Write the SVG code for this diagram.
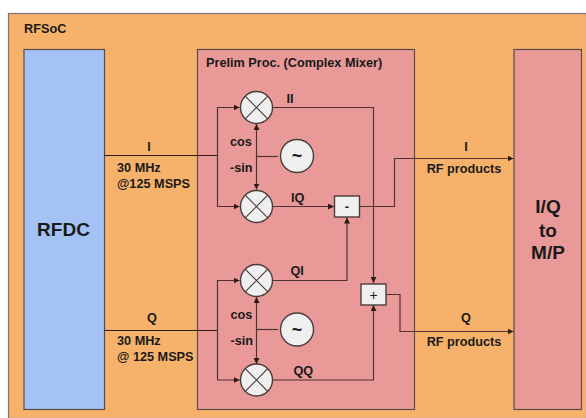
<svg xmlns="http://www.w3.org/2000/svg" width="586" height="418" viewBox="0 0 586 418">
<style>
text{font-family:"Liberation Sans",Arial,sans-serif;font-weight:700;fill:#1a1a1a;font-size:12.7px}
.m{text-anchor:middle}
.big{font-size:19px}
.box{stroke:#5b4a45;stroke-width:1.2}
.sym{fill:#efefef;stroke:#4a3c3c;stroke-width:1.4}
.x{stroke:#4a3c3c;stroke-width:1.2;fill:none}
.c{fill:none;stroke:#4f3232;stroke-width:1.2}
.k{fill:none;stroke:#2a1d14;stroke-width:1.2}
</style>
<defs><marker id="a" markerUnits="userSpaceOnUse" markerWidth="7" markerHeight="6" refX="6" refY="3" orient="auto-start-reverse"><path d="M0 0L6 3L0 6z" fill="#2a1d14"/></marker></defs>
<g id="rfsoc"><rect x="8.500" y="13.500" width="578" height="405" fill="#f6b26b" stroke="#777" stroke-width="1.200"/><text x="24" y="33">RFSoC</text></g>
<g id="rfdc"><rect class="box" x="24" y="49.500" width="80.500" height="360" fill="#a4c2f4"/><text class="m big" x="63.500" y="236">RFDC</text></g>
<g id="prelim"><rect class="box" x="197.500" y="49.500" width="217" height="360" fill="#ea9999"/><text x="206" y="67">Prelim Proc. (Complex Mixer)</text></g>
<g id="iqmp"><rect class="box" x="514" y="49.500" width="67.500" height="360" fill="#ea9999"/><text class="m big" x="548" y="213">I/Q</text><text class="m big" x="548" y="237">to</text><text class="m big" x="548" y="259">M/P</text></g>
<g id="connectors">
<path class="k" d="M104.500 155.500H217.500"/>
<path class="c" d="M217.500 155.500V107.500H239.500" marker-end="url(#a)"/>
<path class="c" d="M217.500 155.500V206.500H239.500" marker-end="url(#a)"/>
<path class="c" d="M256.500 156.500H278"/>
<path class="c" d="M256.500 124V189.500" marker-start="url(#a)" marker-end="url(#a)"/>
<path class="c" d="M272 107.500H373.500V283" marker-end="url(#a)"/>
<path class="c" d="M272 206.500H334" marker-end="url(#a)"/>
<path class="c" d="M359 206.500H394.500V158.500H513.500" marker-end="url(#a)"/>
<path class="k" d="M104.500 330.500H217.500"/>
<path class="c" d="M217.500 330.500V280.500H239.500" marker-end="url(#a)"/>
<path class="c" d="M217.500 330.500V380H239.500" marker-end="url(#a)"/>
<path class="c" d="M256.500 329.500H278"/>
<path class="c" d="M256.500 297V364" marker-start="url(#a)" marker-end="url(#a)"/>
<path class="c" d="M273 280.500H347V217.500" marker-end="url(#a)"/>
<path class="c" d="M273 380H373.500V305" marker-end="url(#a)"/>
<path class="c" d="M386 294.500H400V331.500H513.500" marker-end="url(#a)"/>
</g>
<g id="mix-ii"><circle class="sym" cx="256.500" cy="107.500" r="16"/><path class="x" d="M245.200 96.200L267.800 118.800M267.800 96.200L245.200 118.800"/></g>
<g id="mix-iq"><circle class="sym" cx="256.500" cy="206.500" r="16"/><path class="x" d="M245.200 195.200L267.800 217.800M267.800 195.200L245.200 217.800"/></g>
<g id="mix-qi"><circle class="sym" cx="256.500" cy="280.500" r="16"/><path class="x" d="M245.200 269.200L267.800 291.800M267.800 269.200L245.200 291.800"/></g>
<g id="mix-qq"><circle class="sym" cx="256.500" cy="380" r="16"/><path class="x" d="M245.200 368.700L267.800 391.300M267.800 368.700L245.200 391.300"/></g>
<g id="lo-1"><circle class="sym" cx="297" cy="156" r="16.500"/><text class="m" x="297" y="162" style="font-size:18px">~</text></g>
<g id="lo-2"><circle class="sym" cx="297" cy="329.500" r="16.500"/><text class="m" x="297" y="335.500" style="font-size:18px">~</text></g>
<g id="sub"><rect class="sym" x="334.500" y="196" width="25" height="21"/><text class="m" x="347" y="211" style="font-size:13px">-</text></g>
<g id="add"><rect class="sym" x="361" y="284" width="25" height="21"/><text class="m" x="373.500" y="299.500" style="font-size:14px;font-weight:400">+</text></g>
<g id="labels">
<text class="m" x="149" y="151">I</text>
<text x="117" y="172">30 MHz</text><text x="117" y="187.500">@125 MSPS</text>
<text class="m" x="152" y="322">Q</text>
<text x="117" y="345">30 MHz</text><text x="117" y="360.500">@ 125 MSPS</text>
<text x="230" y="145.500">cos</text><text x="230" y="171.500">-sin</text>
<text x="230.500" y="319">cos</text><text x="230.500" y="345">-sin</text>
<text x="286.500" y="103">II</text><text x="291" y="202">IQ</text><text x="290.500" y="275">QI</text><text x="293.500" y="375">QQ</text>
<text class="m" x="466" y="151">I</text><text class="m" x="464" y="173">RF products</text>
<text class="m" x="466" y="322">Q</text><text class="m" x="464" y="346">RF products</text>
</g>
</svg>
